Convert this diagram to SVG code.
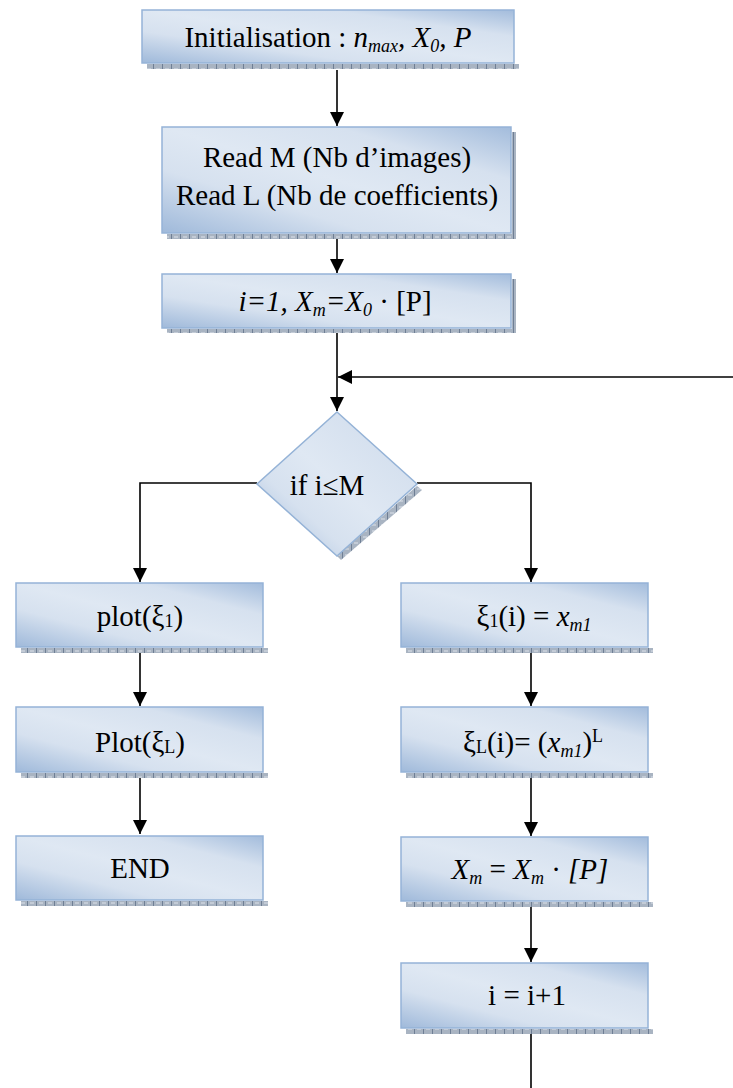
<svg xmlns="http://www.w3.org/2000/svg" width="733" height="1088" viewBox="0 0 733 1088">
<style>
.box{fill:url(#g);stroke:#95b3d7;stroke-width:1.5}
.sh{fill:url(#hatch)}
.t{font-family:'Liberation Serif','Times New Roman',Times,serif;font-size:29px;fill:#000;text-anchor:middle}
.i{font-style:italic}
.c{fill:none;stroke:#000;stroke-width:1.6}
</style>
<defs>
<linearGradient id="g" x1="0" y1="1" x2="1" y2="0">
<stop offset="0" stop-color="#9fb9da"/>
<stop offset="0.3" stop-color="#d6e1ef"/>
<stop offset="0.5" stop-color="#dfe8f3"/>
<stop offset="0.75" stop-color="#d6e1ef"/>
<stop offset="1" stop-color="#a3bcdc"/>
</linearGradient>
<pattern id="hatch" width="9" height="6" patternUnits="userSpaceOnUse">
<rect width="9" height="6" fill="#a9b4c2"/>
<rect x="0" y="0" width="1" height="6" fill="#6f7f95"/>
<rect x="3" y="2" width="4" height="2" fill="#c3cbd6"/>
</pattern>
<marker id="ah" viewBox="0 0 14 14" refX="14" refY="7" markerWidth="14" markerHeight="14" markerUnits="userSpaceOnUse" orient="auto">
<path d="M0,0 L14,7 L0,14 Z" fill="#000"/>
</marker>
</defs>

<g id="connectors">
<path class="c" d="M337,70 V126" marker-end="url(#ah)"/>
<path class="c" d="M337,238 V273" marker-end="url(#ah)"/>
<path class="c" d="M337,333 V411" marker-end="url(#ah)"/>
<path class="c" d="M733,377 H338" marker-end="url(#ah)"/>
<path class="c" d="M257,483 H140 V582" marker-end="url(#ah)"/>
<path class="c" d="M417,483 H531 V582" marker-end="url(#ah)"/>
<path class="c" d="M140,652 V706" marker-end="url(#ah)"/>
<path class="c" d="M140,777 V834" marker-end="url(#ah)"/>
<path class="c" d="M531,652 V706" marker-end="url(#ah)"/>
<path class="c" d="M531,777 V836" marker-end="url(#ah)"/>
<path class="c" d="M531,906 V962" marker-end="url(#ah)"/>
<path class="c" d="M531,1032 V1088"/>
</g>

<g id="n1">
<rect class="sh" x="147" y="64" width="372" height="5"/>
<rect class="box" x="142" y="10" width="372" height="53"/>
<text class="t" font-family="Liberation Serif" x="328" y="47" font-size="27">Initialisation : <tspan class="i">n</tspan><tspan class="i" font-size="18" dy="5">max</tspan><tspan class="i" dy="-5">, X</tspan><tspan class="i" font-size="18" dy="5">0</tspan><tspan class="i" dy="-5">, P</tspan></text>
</g>

<g id="n2">
<rect class="sh" x="167" y="234" width="349" height="5"/>
<rect class="sh" x="512" y="132" width="4" height="102"/>
<rect class="box" x="162" y="127" width="349" height="106"/>
<text class="t" font-family="Liberation Serif" x="337" y="167">Read M (Nb d’images)</text>
<text class="t" font-family="Liberation Serif" x="337" y="205">Read L (Nb de coefficients)</text>
</g>

<g id="n3">
<rect class="sh" x="167" y="329" width="349" height="4"/>
<rect class="sh" x="512" y="279" width="4" height="50"/>
<rect class="box" x="162" y="274" width="349" height="54"/>
<text class="t" font-family="Liberation Serif" x="335" y="311"><tspan class="i">i=1, X</tspan><tspan class="i" font-size="18" dy="5">m</tspan><tspan class="i" dy="-5">=X</tspan><tspan class="i" font-size="18" dy="5">0</tspan><tspan dy="-5"> · [P]</tspan></text>
</g>

<g id="n4">
<path class="sh" d="M417,486 L422,490 L341,560 L337,556 Z"/>
<path class="box" d="M337,412 L417,484 L337,556 L257,484 Z"/>
<text class="t" font-family="Liberation Serif" x="327" y="495">if i≤M</text>
</g>

<g id="n5">
<rect class="sh" x="21" y="648" width="247" height="5"/>
<rect class="box" x="16" y="583" width="247" height="64"/>
<text class="t" font-family="Liberation Serif" x="140" y="626">plot(ξ<tspan font-size="18" dy="1">1</tspan><tspan dy="-1">)</tspan></text>
</g>

<g id="n6">
<rect class="sh" x="21" y="773" width="247" height="5"/>
<rect class="box" x="16" y="707" width="247" height="65"/>
<text class="t" font-family="Liberation Serif" x="140" y="752">Plot(ξ<tspan font-size="18" dy="1">L</tspan><tspan dy="-1">)</tspan></text>
</g>

<g id="n7">
<rect class="sh" x="21" y="901" width="247" height="5"/>
<rect class="box" x="16" y="836" width="247" height="64"/>
<text class="t" font-family="Liberation Serif" x="140" y="878">END</text>
</g>

<g id="n8">
<rect class="sh" x="406" y="648" width="247" height="5"/>
<rect class="box" x="401" y="583" width="247" height="64"/>
<text class="t" font-family="Liberation Serif" x="534" y="626">ξ<tspan font-size="18" dy="1">1</tspan><tspan dy="-1">(i) = </tspan><tspan class="i">x</tspan><tspan class="i" font-size="18" dy="5">m1</tspan></text>
</g>

<g id="n9">
<rect class="sh" x="406" y="773" width="247" height="5"/>
<rect class="box" x="401" y="707" width="247" height="65"/>
<text class="t" font-family="Liberation Serif" x="533" y="752">ξ<tspan font-size="18" dy="1">L</tspan><tspan dy="-1">(i)= (</tspan><tspan class="i">x</tspan><tspan class="i" font-size="18" dy="5">m1</tspan><tspan dy="-5">)</tspan><tspan font-size="18" dy="-10">L</tspan></text>
</g>

<g id="n10">
<rect class="sh" x="406" y="902" width="247" height="5"/>
<rect class="box" x="401" y="837" width="247" height="64"/>
<text class="t" font-family="Liberation Serif" x="530" y="879"><tspan class="i">X</tspan><tspan class="i" font-size="18" dy="5">m</tspan><tspan dy="-5"> = </tspan><tspan class="i">X</tspan><tspan class="i" font-size="18" dy="5">m</tspan><tspan dy="-5"> · </tspan><tspan class="i">[P]</tspan></text>
</g>

<g id="n11">
<rect class="sh" x="406" y="1029" width="247" height="5"/>
<rect class="box" x="401" y="963" width="247" height="65"/>
<text class="t" font-family="Liberation Serif" x="527" y="1005">i = i+1</text>
</g>
</svg>
